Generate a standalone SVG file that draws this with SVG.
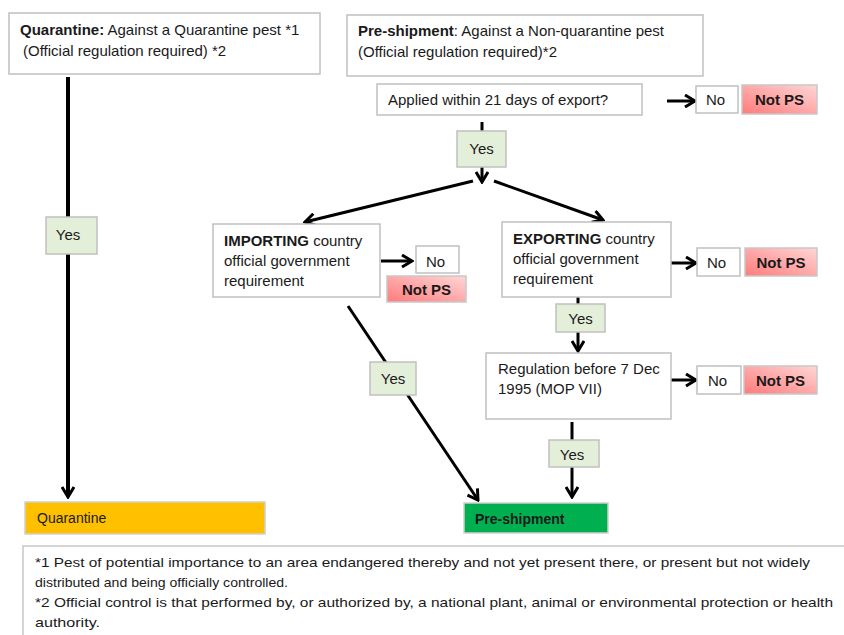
<svg xmlns="http://www.w3.org/2000/svg" width="844" height="635" viewBox="0 0 844 635">
<defs>
<linearGradient id="pink" x1="0" y1="1" x2="1" y2="0">
<stop offset="0" stop-color="#ff7b7b"/>
<stop offset="1" stop-color="#ffd6d6"/>
</linearGradient>
<marker id="arr" viewBox="0 0 14 14" markerWidth="14" markerHeight="14" markerUnits="userSpaceOnUse" orient="auto" refX="12" refY="7">
<path d="M2,1 L12,7 L2,13" fill="none" stroke="#000" stroke-width="3"/>
</marker>
</defs>
<style>
text{font-family:"Liberation Sans",Arial,sans-serif;font-size:15px;fill:#1a1a1a}
.b{font-weight:bold}
.box{fill:#fff;stroke:#c0c0c0;stroke-width:1.5}
.yes{fill:#e4efda;stroke:#c0c0c0;stroke-width:1.5}
.nops{fill:url(#pink);stroke:#c8c8c8;stroke-width:1.5}
.conn{stroke:#000;stroke-width:3;fill:none;marker-end:url(#arr)}
.foot{font-size:13px}
.sm{font-size:14px}
</style>
<rect width="844" height="635" fill="#fff"/>
<g id="connectors">
<line class="conn" x1="68" y1="77" x2="68" y2="497" style="stroke-width:4"/>
<line class="conn" x1="482" y1="122" x2="482" y2="182"/>
<line class="conn" x1="473" y1="181" x2="305" y2="222"/>
<line class="conn" x1="494" y1="181" x2="603" y2="220"/>
<line class="conn" x1="667" y1="101" x2="695" y2="101"/>
<line class="conn" x1="381" y1="261" x2="412" y2="261"/>
<line class="conn" x1="348" y1="306" x2="478" y2="500"/>
<line class="conn" x1="668" y1="263" x2="696" y2="263"/>
<line class="conn" x1="578" y1="297" x2="578" y2="351"/>
<line class="conn" x1="665" y1="380" x2="696" y2="380"/>
<line class="conn" x1="572" y1="422" x2="572" y2="497"/>
</g>
<g id="quarantine-def">
<rect class="box" x="9" y="13" width="311" height="61"/>
<text x="20" y="35"><tspan class="b">Quarantine:</tspan> Against a Quarantine pest *1</text>
<text x="23" y="56">(Official regulation required) *2</text>
</g>
<g id="preshipment-def">
<rect class="box" x="347" y="15" width="356" height="61"/>
<text x="358" y="36"><tspan class="b">Pre-shipment</tspan>: Against a Non-quarantine pest</text>
<text x="358" y="57">(Official regulation required)*2</text>
</g>
<g id="applied">
<rect class="box" x="377" y="84" width="265" height="31"/>
<text x="388" y="105">Applied within 21 days of export?</text>
</g>
<g id="applied-no">
<rect class="box" x="696" y="86" width="42" height="27"/>
<text x="706" y="105">No</text>
</g>
<g id="applied-notps">
<rect class="nops" x="742" y="85" width="75" height="29"/>
<text class="b" x="779.5" y="105" text-anchor="middle">Not PS</text>
</g>
<g id="yes-applied">
<rect class="yes" x="457" y="131" width="49" height="36"/>
<text x="481.5" y="154" text-anchor="middle">Yes</text>
</g>
<g id="importing">
<rect class="box" x="213" y="224" width="167" height="73"/>
<text x="224" y="246"><tspan class="b">IMPORTING</tspan> country</text>
<text x="224" y="266">official government</text>
<text x="224" y="286">requirement</text>
</g>
<g id="importing-no">
<rect class="box" x="416" y="246" width="43" height="27"/>
<text x="426" y="267">No</text>
</g>
<g id="importing-notps">
<rect class="nops" x="387" y="276" width="79" height="26"/>
<text class="b" x="426.5" y="295" text-anchor="middle">Not PS</text>
</g>
<g id="yes-importing">
<rect class="yes" x="370" y="362" width="46" height="33"/>
<text x="393" y="384" text-anchor="middle">Yes</text>
</g>
<g id="exporting">
<rect class="box" x="502" y="222" width="169" height="75"/>
<text x="513" y="244"><tspan class="b">EXPORTING</tspan> country</text>
<text x="513" y="264">official government</text>
<text x="513" y="284">requirement</text>
</g>
<g id="exporting-no">
<rect class="box" x="697" y="248" width="43" height="28"/>
<text x="707" y="268">No</text>
</g>
<g id="exporting-notps">
<rect class="nops" x="745" y="248" width="72" height="28"/>
<text class="b" x="781" y="268" text-anchor="middle">Not PS</text>
</g>
<g id="yes-exporting">
<rect class="yes" x="556" y="304" width="49" height="28"/>
<text x="580.5" y="324" text-anchor="middle">Yes</text>
</g>
<g id="regulation">
<rect class="box" x="486" y="353" width="185" height="66"/>
<text x="498" y="374">Regulation before 7 Dec</text>
<text x="498" y="394">1995 (MOP VII)</text>
</g>
<g id="regulation-no">
<rect class="box" x="697" y="366" width="44" height="28"/>
<text x="708" y="386">No</text>
</g>
<g id="regulation-notps">
<rect class="nops" x="744" y="366" width="73" height="28"/>
<text class="b" x="780.5" y="386" text-anchor="middle">Not PS</text>
</g>
<g id="yes-regulation">
<rect class="yes" x="549" y="440" width="50" height="27"/>
<text x="572" y="460" text-anchor="middle">Yes</text>
</g>
<g id="yes-quarantine">
<rect class="yes" x="46" y="217" width="51" height="37"/>
<text x="68" y="240" text-anchor="middle">Yes</text>
</g>
<g id="quarantine">
<rect x="25" y="502" width="240" height="32" fill="#ffc000" stroke="#d0d0d0" stroke-width="1.5"/>
<text class="sm" x="37" y="523">Quarantine</text>
</g>
<g id="preshipment">
<rect x="464" y="503" width="144" height="30" fill="#00b050" stroke="#d0d0d0" stroke-width="1.5"/>
<text class="b sm" x="475" y="524">Pre-shipment</text>
</g>
<g id="footnotes">
<rect x="23" y="546" width="830" height="95" fill="#fff" stroke="#c8c8c8" stroke-width="1.5"/>
<text class="foot" x="35" y="567" textLength="775" lengthAdjust="spacingAndGlyphs">*1 Pest of potential importance to an area endangered thereby and not yet present there, or present but not widely</text>
<text class="foot" x="35" y="587" textLength="253" lengthAdjust="spacingAndGlyphs">distributed and being officially controlled.</text>
<text class="foot" x="35" y="607" textLength="798" lengthAdjust="spacingAndGlyphs">*2 Official control is that performed by, or authorized by, a national plant, animal or environmental protection or health</text>
<text class="foot" x="35" y="627" textLength="65" lengthAdjust="spacingAndGlyphs">authority.</text>
</g>
</svg>
